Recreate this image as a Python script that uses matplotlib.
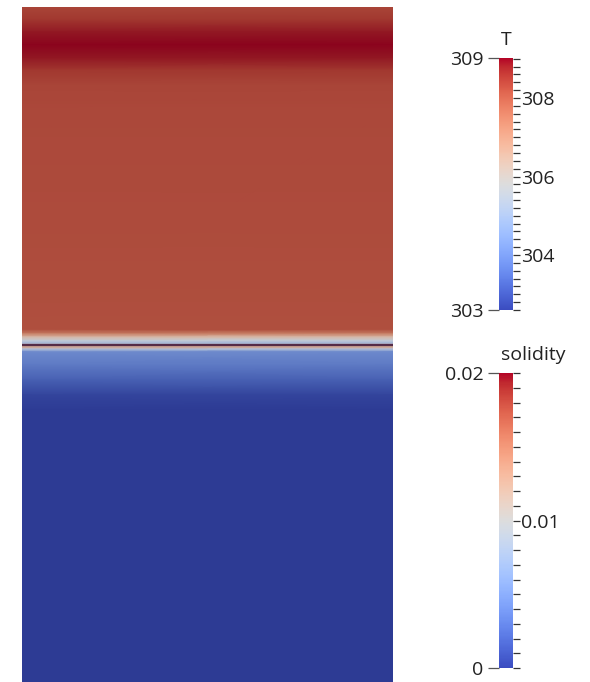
import numpy as np
import matplotlib
matplotlib.use("Agg")
import matplotlib.pyplot as plt
from matplotlib.colors import Normalize, ListedColormap
from matplotlib.cm import ScalarMappable
from matplotlib.ticker import MultipleLocator

plt.rcParams['font.family'] = ['Open Sans', 'DejaVu Sans']

# Vertical temperature profile (depth as fraction of domain height, 0 = top)
depth = [0.000, 0.019, 0.037, 0.056, 0.076, 0.093, 0.116, 0.153,
         0.478, 0.484, 0.489, 0.494, 0.498, 0.504, 0.507,
         0.511, 0.530, 0.553, 0.575, 0.597, 1.000]
temperature = [308.3, 308.5, 308.85, 309.3, 308.85, 308.5, 308.3, 308.25,
               308.15, 307.4, 306.4, 305.6, 305.1, 306.8, 305.3,
               304.1, 303.8, 303.3, 302.8, 302.4, 302.3]
# Solidification front (thin dark line in the lit surface)
front_depth = 0.501

# Colour-bar ranges and labels
T_range = (302.6, 309.02)
T_major = [304, 306, 308]
T_end_labels = ['309', '303']
S_range = (0.0, 0.02)
S_major = [0.01]
S_end_labels = ['0.02', '0']

W, H = 590, 682
fig = plt.figure(figsize=(W / 100, H / 100), dpi=100)
fig.patch.set_facecolor('white')


def px_axes(x0, y0, x1, y1):
    return fig.add_axes([x0 / W, 1 - y1 / H, (x1 - x0) / W, (y1 - y0) / H])


# Lit version of the cool-to-warm map for the rendered surface:
# saturated ends are dimmed more than the pale middle
base = plt.get_cmap('coolwarm')
t = np.linspace(0, 1, 256)
factor = 0.77 + 0.18 * (1 - np.abs(2 * t - 1)) ** 2
surf_cmap = ListedColormap(base(t)[:, :3] * factor[:, None])

ax = px_axes(22, 7, 393, 682)
xs = np.array([0.0, 1.0])
zs = np.array(depth)
C = np.repeat(np.array(temperature)[:, None], 2, axis=1)
ax.pcolormesh(xs, zs, C, shading='gouraud', cmap=surf_cmap,
              norm=Normalize(*T_range))
ax.axhline(front_depth, color='#4a1e3c', lw=1.6, alpha=0.9)
ax.set_xlim(0, 1)
ax.set_ylim(1, 0)
ax.set_axis_off()


def make_bar(box, vrange, major, minor_step, end_labels, title, fmt):
    cax = px_axes(*box)
    sm = ScalarMappable(norm=Normalize(*vrange), cmap='coolwarm')
    cb = fig.colorbar(sm, cax=cax, orientation='vertical')
    cb.outline.set_visible(False)
    cax.yaxis.set_ticks_position('right')
    cax.set_yticks(major, labels=[fmt(v) for v in major])
    cax.yaxis.set_minor_locator(MultipleLocator(minor_step))
    cax.tick_params(axis='y', which='both', direction='out', length=5,
                    width=0.9, color='#333333', labelsize=14,
                    labelcolor='#222222', pad=1)
    sec = cax.secondary_yaxis('left')
    sec.set_yticks([vrange[1], vrange[0]], labels=end_labels)
    sec.tick_params(axis='y', length=8, width=0.9, color='#555555',
                    labelsize=14, labelcolor='#222222', pad=3)
    sec.spines['left'].set_visible(False)
    x0, y0, x1, y1 = box
    fig.text((x0 + 2) / W, 1 - (y0 - 13) / H, title, ha='left',
             va='baseline', fontsize=14, color='#222222')
    return cax


make_bar((499, 58, 513, 310), T_range, T_major, 0.2, T_end_labels, 'T',
         lambda v: f'{v:.0f}')
make_bar((499, 373, 513, 668), S_range, S_major, 0.001, S_end_labels,
         'solidity', lambda v: f'{v:g}')

fig.savefig('out.png', dpi=100, facecolor='white')
